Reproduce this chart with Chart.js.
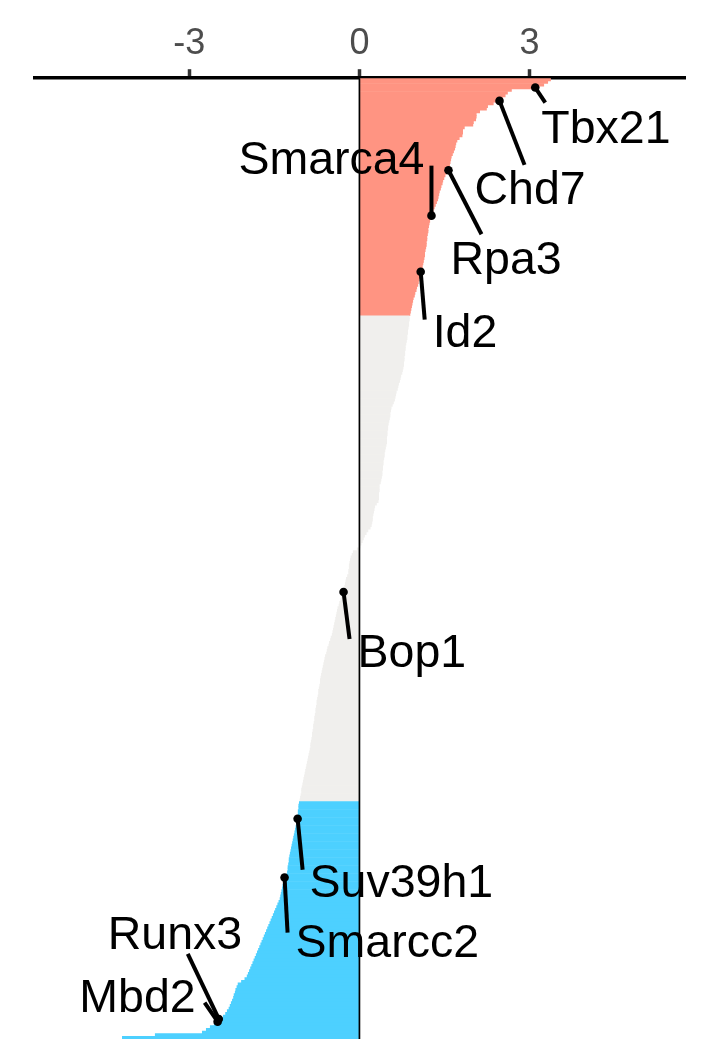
<!DOCTYPE html>
<html>
<head>
<meta charset="utf-8">
<script src="https://cdn.jsdelivr.net/npm/chart.js@4/dist/chart.umd.min.js"></script>
<style>
  html, body { margin: 0; padding: 0; background: #ffffff; }
  #wrap { width: 708px; height: 1062px; position: relative; }
</style>
</head>
<body>
<div id="wrap"><canvas id="c" width="708" height="1062"></canvas></div>
<script>
// ---------------- data ----------------
// ranked gene scores (top = highest)
const scores = [
  3.37, 3.32, 3.25, 3.10, 2.68, 2.61, 2.57, 2.52, 2.47, 2.36,
  2.26, 2.24, 2.12, 2.06, 2.06, 2.05, 2.01, 2.00, 1.85, 1.82,
  1.82, 1.81, 1.76, 1.72, 1.70, 1.69, 1.68, 1.66, 1.64, 1.62,
  1.61, 1.60, 1.59, 1.58, 1.57, 1.54, 1.51, 1.49, 1.47, 1.46,
  1.44, 1.43, 1.41, 1.40, 1.39, 1.38, 1.36, 1.34, 1.32, 1.30,
  1.28, 1.27, 1.25, 1.24, 1.23, 1.22, 1.21, 1.21, 1.20, 1.19,
  1.19, 1.18, 1.18, 1.17, 1.16, 1.15, 1.15, 1.14, 1.13, 1.12,
  1.11, 1.10, 1.08, 1.07, 1.06, 1.05, 1.04, 1.03, 1.01, 1.00,
  0.98, 0.97, 0.95, 0.94, 0.93, 0.92, 0.91, 0.90, 0.89,
  0.88, 0.88, 0.87, 0.87, 0.86, 0.85, 0.85, 0.84, 0.84, 0.83, 0.82,
  0.81, 0.81, 0.80, 0.80, 0.79, 0.79, 0.78, 0.78, 0.77, 0.76,
  0.75, 0.73, 0.72, 0.71, 0.69, 0.68, 0.67, 0.65, 0.64, 0.63,
  0.62, 0.60, 0.58, 0.56, 0.55, 0.54, 0.54, 0.53, 0.52, 0.51,
  0.50, 0.50, 0.49, 0.49, 0.48, 0.48, 0.48, 0.47, 0.46, 0.45,
  0.44, 0.44, 0.43, 0.42, 0.42, 0.41, 0.41, 0.40, 0.40, 0.39,
  0.38, 0.37, 0.35, 0.35, 0.35, 0.34, 0.34, 0.34, 0.33, 0.30,
  0.27, 0.26, 0.25, 0.24, 0.23, 0.23, 0.22, 0.21, 0.19, 0.15,
  0.12, 0.09, 0.07, 0.05, 0.03, 0.01, -0.04, -0.11, -0.13, -0.15,
  -0.16, -0.17, -0.18, -0.18, -0.19, -0.19, -0.21, -0.23, -0.24, -0.25,
  -0.26, -0.27, -0.28, -0.30, -0.32, -0.33, -0.35, -0.36, -0.38, -0.39,
  -0.40, -0.41, -0.42, -0.43, -0.44, -0.45, -0.46, -0.47, -0.48, -0.50,
  -0.51, -0.53, -0.54, -0.56, -0.57, -0.58, -0.60, -0.61, -0.62, -0.63,
  -0.64, -0.65, -0.66, -0.67, -0.68, -0.69, -0.69, -0.70, -0.71, -0.72,
  -0.72, -0.73, -0.74, -0.75, -0.75, -0.76, -0.77, -0.77, -0.78, -0.79,
  -0.79, -0.80, -0.81, -0.81, -0.82, -0.83, -0.83, -0.84, -0.85, -0.86,
  -0.86, -0.87, -0.88, -0.89, -0.90, -0.91, -0.92, -0.93, -0.94, -0.95,
  -0.96, -0.97, -0.98, -0.99, -1.00, -1.01, -1.02, -1.02, -1.03, -1.04, -1.05,
  -1.06, -1.07, -1.07, -1.08, -1.08, -1.08, -1.09, -1.10, -1.11,
  -1.12, -1.13, -1.14, -1.15, -1.16, -1.17, -1.18, -1.19, -1.20, -1.21,
  -1.22, -1.23, -1.24, -1.24, -1.25, -1.26, -1.26, -1.27, -1.28, -1.32,
  -1.33, -1.34, -1.35, -1.36, -1.37, -1.38, -1.39, -1.40, -1.42, -1.44,
  -1.46, -1.48, -1.50, -1.52, -1.54, -1.56, -1.58, -1.60, -1.62, -1.64,
  -1.66, -1.68, -1.70, -1.72, -1.74, -1.76, -1.78, -1.80, -1.82, -1.84,
  -1.86, -1.88, -1.90, -1.92, -1.94, -1.96, -1.98, -2.02, -2.08, -2.14,
  -2.16, -2.18, -2.19, -2.21, -2.22, -2.24, -2.26, -2.28, -2.30, -2.33,
  -2.36, -2.40, -2.48, -2.50, -2.56, -2.63, -2.70, -2.77, -3.60, -4.18
];
// rank categories
const categories = scores.map((_, i) => String(i + 1));
// number of enriched (top) and depleted (bottom) hits
const topHits = 89;
const bottomHits = 89;
// x tick labels
const xTicks = [-3, 0, 3];
// labelled genes and their rank index
const labelGenes = ['Tbx21', 'Chd7', 'Rpa3', 'Smarca4', 'Id2', 'Bop1', 'Suv39h1', 'Smarcc2', 'Runx3', 'Mbd2'];
const labelIndex = [3, 8, 34, 51, 72, 192, 277, 299, 352, 353];

// ---------------- styling / label layout ----------------
const COL_UP = '#FF9482';
const COL_MID = '#F0EFED';
const COL_DOWN = '#4DD0FF';
const FONT = '"Liberation Sans", Arial, Helvetica, sans-serif';
// offsets (px) relative to the dot: line end (lx,ly), text anchor (tx,ty), align
const labelLayout = {
  Tbx21:   { lx: 10,  ly: 15,  tx: 6,    ty: 55,  align: 'left' },
  Chd7:    { lx: 25,  ly: 64,  tx: -25,  ty: 103, align: 'left' },
  Rpa3:    { lx: 33,  ly: 64,  tx: 2,    ty: 104, align: 'left' },
  Smarca4: { lx: 0,   ly: -50, tx: -7,   ty: -42, align: 'right' },
  Id2:     { lx: 4,   ly: 48,  tx: 12,   ty: 75,  align: 'left' },
  Bop1:    { lx: 6,   ly: 47,  tx: 14,   ty: 75,  align: 'left' },
  Suv39h1: { lx: 5,   ly: 51,  tx: 12,   ty: 78,  align: 'left' },
  Smarcc2: { lx: 3,   ly: 55,  tx: 11,   ty: 79,  align: 'left' },
  Runx3:   { lx: -31, ly: -65, tx: -111, ty: -70, align: 'left' },
  Mbd2:    { lx: -13, ly: -19, tx: -22,  ty: -10, align: 'right' }
};

const barColors = scores.map((v, i) =>
  i < topHits ? COL_UP : (i >= scores.length - bottomHits ? COL_DOWN : COL_MID));

const overlay = {
  id: 'overlay',
  afterDatasetsDraw(chart) {
    const ctx = chart.ctx;
    const xs = chart.scales.x, ys = chart.scales.y;
    const area = chart.chartArea;
    ctx.save();
    // zero line
    const x0 = xs.getPixelForValue(0);
    ctx.strokeStyle = '#000';
    ctx.lineWidth = 1.7;
    ctx.beginPath();
    ctx.moveTo(x0, area.top);
    ctx.lineTo(x0, area.bottom);
    ctx.stroke();
    // labels
    ctx.font = '46.5px ' + FONT;
    ctx.textBaseline = 'alphabetic';
    ctx.fillStyle = '#000';
    labelGenes.forEach((g, k) => {
      const idx = labelIndex[k];
      const px = xs.getPixelForValue(scores[idx]);
      const py = ys.getPixelForValue(idx);
      const L = labelLayout[g];
      ctx.lineWidth = 4;
      ctx.lineCap = 'butt';
      ctx.beginPath();
      ctx.moveTo(px, py);
      ctx.lineTo(px + L.lx, py + L.ly);
      ctx.stroke();
      ctx.beginPath();
      ctx.arc(px, py, 4.3, 0, Math.PI * 2);
      ctx.fill();
      ctx.textAlign = L.align;
      ctx.fillText(g, px + L.tx, py + L.ty);
    });
    ctx.restore();
  }
};

new Chart(document.getElementById('c'), {
  type: 'bar',
  data: {
    labels: categories,
    datasets: [{
      data: scores,
      backgroundColor: barColors,
      borderWidth: 0,
      barPercentage: 1.0,
      categoryPercentage: 1.0
    }]
  },
  options: {
    indexAxis: 'y',
    responsive: false,
    animation: false,
    devicePixelRatio: 1,
    layout: { padding: { left: 35, right: 23, top: 18, bottom: 23 } },
    plugins: { legend: { display: false }, tooltip: { enabled: false } },
    scales: {
      x: {
        position: 'top',
        min: -5.72,
        max: 5.74,
        afterBuildTicks(scale) { scale.ticks = xTicks.map(v => ({ value: v })); },
        grid: {
          display: true,
          drawOnChartArea: false,
          drawTicks: true,
          tickLength: 9,
          tickWidth: 3.5,
          tickColor: '#333333'
        },
        border: { display: true, color: '#000000', width: 3.5 },
        ticks: {
          autoSkip: false,
          maxRotation: 0,
          padding: 4,
          color: '#4D4D4D',
          font: { family: FONT, size: 36 }
        }
      },
      y: {
        display: false,
        offset: true
      }
    }
  },
  plugins: [overlay]
});
</script>
</body>
</html>
